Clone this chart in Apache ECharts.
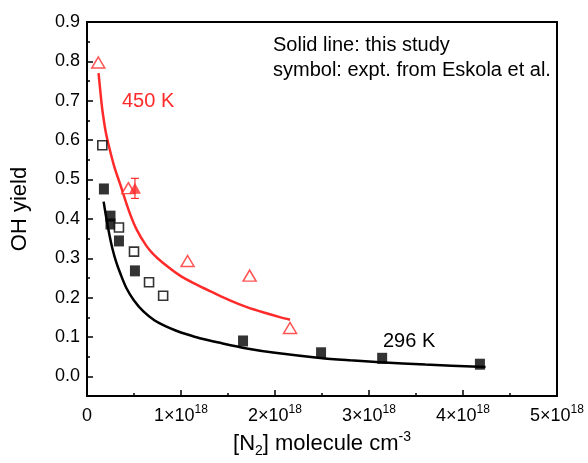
<!DOCTYPE html>
<html>
<head>
<meta charset="utf-8">
<script src="https://cdn.jsdelivr.net/npm/echarts@6/dist/echarts.min.js"></script>
<style>
  html, body { margin: 0; padding: 0; background: #fff; }
  #chart { width: 588px; height: 463px; }
</style>
</head>
<body>
<div id="chart"></div>
<script>
// N2 density in units of 1e18 molecule cm^-3, OH yield dimensionless
const E18 = 1e18;

// Model curves ("this study")
const line296K = [
  [0.177, 0.444], [0.20, 0.410], [0.24, 0.358], [0.27, 0.325], [0.31, 0.291],
  [0.36, 0.258], [0.42, 0.224], [0.50, 0.193], [0.60, 0.165], [0.72, 0.142],
  [0.84, 0.127], [0.95, 0.116], [1.06, 0.107], [1.20, 0.097], [1.40, 0.086],
  [1.70, 0.071], [2.00, 0.060], [2.48, 0.047], [2.80, 0.041], [3.12, 0.036],
  [3.60, 0.030], [4.24, 0.024]
];
const line450K = [
  [0.123, 0.770], [0.15, 0.705], [0.17, 0.665], [0.20, 0.620], [0.24, 0.578],
  [0.29, 0.533], [0.35, 0.490], [0.45, 0.418], [0.53, 0.372], [0.63, 0.332],
  [0.70, 0.312], [0.80, 0.290], [0.99, 0.256], [1.15, 0.235], [1.35, 0.212],
  [1.52, 0.193], [1.70, 0.176], [1.90, 0.161], [2.06, 0.150], [2.16, 0.144]
];

// Experimental points (Eskola et al.)
const filledSquares296K = [
  [0.18, 0.476], [0.25, 0.407], [0.25, 0.387], [0.34, 0.344], [0.51, 0.268],
  [1.66, 0.090], [2.49, 0.060], [3.14, 0.046], [4.18, 0.031]
];
const openSquares = [
  [0.163, 0.587], [0.34, 0.378], [0.50, 0.317], [0.66, 0.239], [0.81, 0.205]
];
const openTriangles450K = [
  [0.12, 0.797], [0.44, 0.478], [1.07, 0.293], [1.73, 0.256], [2.16, 0.123]
];
const filledTriangle450K = [[0.51, 0.478]];
const errorBar450K = [[0.51, 0.452, 0.503]];

// Axis ticks
const yMajorTicks = [0, 0.1, 0.2, 0.3, 0.4, 0.5, 0.6, 0.7, 0.8, 0.9];
const yMinorTicks = [0.05, 0.15, 0.25, 0.35, 0.45, 0.55, 0.65, 0.75, 0.85];

const scale = d => d.map(p => [p[0] * E18].concat(p.slice(1)));

const RED = '#ff2a2a';
const FONT = 'Liberation Sans, Arial, sans-serif';

const chart = echarts.init(document.getElementById('chart'), null, { renderer: 'canvas' });

const commonAxisLine = { show: true, onZero: false, lineStyle: { color: '#000', width: 2 } };

chart.setOption({
  animation: false,
  backgroundColor: '#fff',
  textStyle: { fontFamily: FONT },
  grid: {
    left: 87, right: 31, top: 22, bottom: 65,
    show: true, borderColor: '#000', borderWidth: 2, backgroundColor: 'transparent'
  },
  xAxis: {
    type: 'value',
    min: 0, max: 5 * E18, interval: E18,
    axisLine: commonAxisLine,
    axisTick: { show: true, inside: true, length: 6, lineStyle: { color: '#000', width: 1.5 } },
    minorTick: { show: true, splitNumber: 2, length: 3, lineStyle: { color: '#000', width: 1.5 } },
    splitLine: { show: false },
    axisLabel: {
      margin: 8,
      color: '#000',
      fontFamily: FONT,
      formatter: v => v === 0 ? '{a|0}' : '{a|' + Math.round(v / E18) + '×10}{s|18}',
      rich: {
        a: { fontSize: 18, lineHeight: 24, fontFamily: FONT, color: '#000' },
        s: { fontSize: 12, lineHeight: 12, verticalAlign: 'top', fontFamily: FONT, color: '#000' }
      }
    },
    name: '{a|[N}{b|2}{a|] molecule cm}{c|-3}',
    nameLocation: 'middle',
    nameGap: 30,
    nameTextStyle: {
      rich: {
        a: { fontSize: 22, lineHeight: 28, fontFamily: FONT, color: '#000' },
        b: { fontSize: 14, lineHeight: 14, verticalAlign: 'bottom', fontFamily: FONT, color: '#000' },
        c: { fontSize: 14, lineHeight: 14, verticalAlign: 'top', fontFamily: FONT, color: '#000' }
      }
    }
  },
  yAxis: [
    {
      type: 'value',
      min: -0.05, max: 0.9,
      axisLine: commonAxisLine,
      axisTick: { show: true, inside: true, length: 6, customValues: yMajorTicks, lineStyle: { color: '#000', width: 1.5 } },
      splitLine: { show: false },
      axisLabel: {
        margin: 7, fontSize: 18, color: '#000', fontFamily: FONT,
        customValues: yMajorTicks,
        formatter: v => v.toFixed(1)
      },
      name: 'OH yield',
      nameLocation: 'middle',
      nameGap: 56,
      nameTextStyle: { fontSize: 22, color: '#000', fontFamily: FONT }
    },
    {
      type: 'value',
      position: 'left',
      min: -0.05, max: 0.9,
      axisLine: { show: false, onZero: false },
      axisTick: { show: true, inside: true, length: 3, customValues: yMinorTicks, lineStyle: { color: '#000', width: 1.5 } },
      axisLabel: { show: false },
      splitLine: { show: false }
    }
  ],
  series: [
    {
      name: '296 K model',
      type: 'line',
      data: scale(line296K),
      smooth: 0.3,
      symbol: 'none',
      lineStyle: { color: '#000', width: 2.5 },
      z: 2
    },
    {
      name: '450 K model',
      type: 'line',
      data: scale(line450K),
      smooth: 0.3,
      symbol: 'none',
      lineStyle: { color: RED, width: 2.5 },
      z: 2
    },
    {
      name: '296 K expt filled',
      type: 'scatter',
      data: scale(filledSquares296K),
      symbol: 'rect',
      symbolSize: [10, 11],
      itemStyle: { color: '#000' },
      z: 3
    },
    {
      name: 'expt open',
      type: 'scatter',
      data: scale(openSquares),
      symbol: 'rect',
      symbolSize: 9,
      itemStyle: { color: '#fff', borderColor: '#000', borderWidth: 1.6 },
      z: 3
    },
    {
      name: '450 K expt open',
      type: 'scatter',
      data: scale(openTriangles450K),
      symbol: 'triangle',
      symbolSize: [13, 11],
      itemStyle: { color: '#fff', borderColor: RED, borderWidth: 1.5 },
      z: 3
    },
    {
      name: '450 K error bar',
      type: 'custom',
      data: scale(errorBar450K),
      renderItem: (params, api) => {
        const lo = api.coord([api.value(0), api.value(1)]);
        const hi = api.coord([api.value(0), api.value(2)]);
        const cap = 4;
        const style = { stroke: RED, lineWidth: 1.2 };
        return {
          type: 'group',
          children: [
            { type: 'line', shape: { x1: lo[0], y1: lo[1], x2: hi[0], y2: hi[1] }, style },
            { type: 'line', shape: { x1: lo[0] - cap, y1: lo[1], x2: lo[0] + cap, y2: lo[1] }, style },
            { type: 'line', shape: { x1: hi[0] - cap, y1: hi[1], x2: hi[0] + cap, y2: hi[1] }, style }
          ]
        };
      },
      z: 3
    },
    {
      name: '450 K expt filled',
      type: 'scatter',
      data: scale(filledTriangle450K),
      symbol: 'triangle',
      symbolSize: [12, 11],
      itemStyle: { color: RED },
      z: 4
    }
  ],
  graphic: [
    {
      type: 'text', left: 273, top: 33,
      style: {
        text: 'Solid line: this study\nsymbol: expt. from Eskola et al.',
        fontSize: 20, lineHeight: 25, fontFamily: FONT, fill: '#000'
      }
    },
    {
      type: 'text', left: 122, top: 91,
      style: { text: '450 K', fontSize: 20, fontFamily: FONT, fill: RED }
    },
    {
      type: 'text', left: 383, top: 331,
      style: { text: '296 K', fontSize: 20, fontFamily: FONT, fill: '#000' }
    }
  ]
});
</script>
</body>
</html>
